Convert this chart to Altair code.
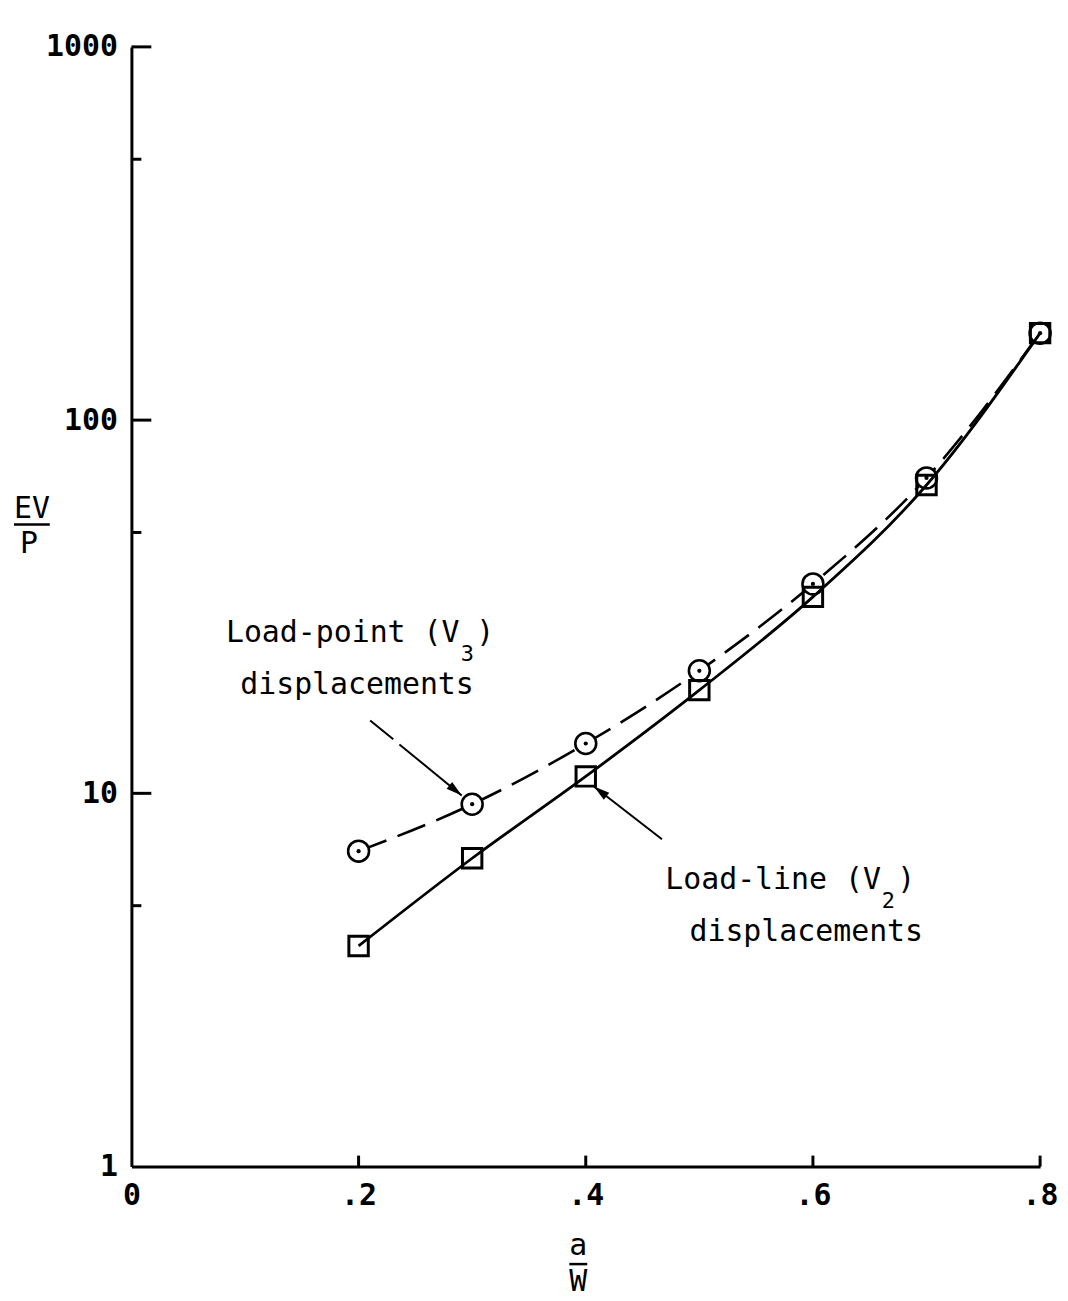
import altair as alt
import pandas as pd

# ---- data ----
a_w = [0.2, 0.3, 0.4, 0.5, 0.6, 0.7, 0.8]
ev_p_load_point = [7.0, 9.35, 13.6, 21.3, 36.4, 70.0, 171.0]   # V3, circles, dashed
ev_p_load_line = [3.9, 6.7, 11.1, 18.9, 33.6, 67.0, 171.0]     # V2, squares, solid

x_tick_values = [0, 0.2, 0.4, 0.6, 0.8]
y_label_values = [1, 10, 100, 1000]
y_major_ticks = [10, 100, 1000]
y_minor_ticks = [5, 50, 500]
x_inner_ticks = [0.2, 0.4, 0.6, 0.8]

# annotation texts (placed in data coordinates)
ann_text = ["Load-point (V", "3", ")", "displacements",
            "Load-line (V", "2", ")", "displacements"]
ann_x = [0.0832, 0.2900, 0.3035, 0.0958, 0.4700, 0.6605, 0.6742, 0.4913]
ann_y = [25.42, 22.62, 25.42, 18.45, 5.53, 4.92, 5.53, 4.03]
ann_fs = [30, 22, 30, 30, 30, 22, 30, 30]

# arrows: tail -> tip
arrow_x1 = [0.2102, 0.4671]
arrow_y1 = [15.68, 7.53]
arrow_x2 = [0.2908, 0.4072]
arrow_y2 = [9.87, 10.43]
arrow_angle = [129.3, 307.8]

W, H = 913, 1125
FONT = "DejaVu Sans Mono"

xs = alt.Scale(domain=[0, 0.8], nice=False, zero=False)
ys = alt.Scale(type="log", domain=[1, 1000], nice=False)

df_v3 = pd.DataFrame({"x": a_w, "y": ev_p_load_point})
df_v2 = pd.DataFrame({"x": a_w, "y": ev_p_load_line})

x_axis = alt.Axis(values=x_tick_values,
                  labelExpr="datum.value == 0 ? '0' : replace(format(datum.value, '.1f'), '0.', '.')",
                  title=None, ticks=False, tickSize=0, grid=False,
                  domainWidth=3, domainColor="black",
                  labelFont=FONT, labelFontSize=30, labelFontWeight="bold",
                  labelColor="black",
                  labelPadding=14, labelFlush=False, labelOverlap=False)
y_axis = alt.Axis(values=y_label_values, format="d",
                  title=None, ticks=False, tickSize=0, grid=False,
                  domainWidth=3, domainColor="black",
                  labelFont=FONT, labelFontSize=30, labelFontWeight="bold",
                  labelColor="black",
                  labelPadding=14, labelFlush=False, labelOverlap=False)


def X(field="x"):
    return alt.X(f"{field}:Q", scale=xs, axis=x_axis, title=None)


def Y(field="y"):
    return alt.Y(f"{field}:Q", scale=ys, axis=y_axis, title=None)


# dashed V3 curve
line_v3 = alt.Chart(df_v3).mark_line(
    color="black", strokeWidth=2.6, strokeDash=[30, 12], interpolate="monotone"
).encode(x=X(), y=Y())

# circles (white filled, hide dashed line under them)
circles = alt.Chart(df_v3).mark_point(
    shape="circle", size=441, filled=True, fill="white", stroke="black",
    strokeWidth=2.6, opacity=1
).encode(x=X(), y=Y())

dots = alt.Chart(df_v3).mark_point(
    shape="circle", size=18, filled=True, color="black", opacity=1
).encode(x=X(), y=Y())

# solid V2 curve
line_v2 = alt.Chart(df_v2).mark_line(
    color="black", strokeWidth=2.8, interpolate="monotone"
).encode(x=X(), y=Y())

squares = alt.Chart(df_v2).mark_point(
    shape="square", size=380, filled=False, stroke="black", strokeWidth=3, opacity=1
).encode(x=X(), y=Y())

# inward ticks
yt_major = alt.Chart(pd.DataFrame({"y": y_major_ticks})).mark_rule(
    color="black", strokeWidth=3
).encode(y=Y(), x=alt.value(0), x2=alt.value(20))
yt_minor = alt.Chart(pd.DataFrame({"y": y_minor_ticks})).mark_rule(
    color="black", strokeWidth=3
).encode(y=Y(), x=alt.value(0), x2=alt.value(10))
xt = alt.Chart(pd.DataFrame({"x": x_inner_ticks})).mark_rule(
    color="black", strokeWidth=3
).encode(x=X(), y=alt.value(H), y2=alt.value(H - 11))

# annotations
df_ann = pd.DataFrame({"t": ann_text, "x": ann_x, "y": ann_y, "fs": ann_fs})
ann = alt.Chart(df_ann).mark_text(
    align="left", baseline="alphabetic", font=FONT, color="black"
).encode(x=X(), y=Y(), text="t:N", size=alt.Size("fs:Q", scale=None, legend=None))

df_arrow = pd.DataFrame({"x": arrow_x1, "y": arrow_y1, "x2": arrow_x2, "y2": arrow_y2,
                         "ang": arrow_angle})
arrow1 = alt.Chart(df_arrow.iloc[[0]]).mark_rule(
    color="black", strokeWidth=2, strokeDash=[30, 8, 300, 0]
).encode(x=X(), y=Y(), x2="x2:Q", y2="y2:Q")
arrow2 = alt.Chart(df_arrow.iloc[[1]]).mark_rule(
    color="black", strokeWidth=2
).encode(x=X(), y=Y(), x2="x2:Q", y2="y2:Q")
heads = alt.Chart(df_arrow).mark_point(
    shape="M0,0L-0.55,2L0.55,2Z", size=256, filled=True, color="black", opacity=1
).encode(x=X("x2"), y=Y("y2"), angle=alt.Angle("ang:Q", scale=None))


# axis title fractions
def txt(s, px, py, fs=30):
    return alt.Chart(pd.DataFrame({"t": [s]})).mark_text(
        align="center", baseline="middle", font=FONT, fontSize=fs, color="black"
    ).encode(text="t:N", x=alt.value(px), y=alt.value(py))


def bar(px1, px2, py):
    return alt.Chart(pd.DataFrame({"t": [0]})).mark_rule(
        color="black", strokeWidth=2.5
    ).encode(x=alt.value(px1), x2=alt.value(px2), y=alt.value(py))


ev = txt("EV", -100, 464)
ev_bar = bar(-118, -82, 480)
p_txt = txt("P", -103, 500)
a_txt = txt("a", 449, 1205)
a_bar = bar(440, 458, 1223)
w_txt = txt("W", 449, 1241)

chart = alt.layer(
    line_v3, circles, dots, line_v2, squares,
    yt_major, yt_minor, xt,
    arrow1, arrow2, heads, ann,
    ev, ev_bar, p_txt, a_txt, a_bar, w_txt
).properties(
    width=W, height=H,
    padding={"left": 124, "top": 36, "right": 20, "bottom": 130},
    autosize=alt.AutoSizeParams(type="none"),
    background="white"
).configure_view(stroke=None)

chart.save("out.html", embed_options={"renderer": "svg", "actions": False})
